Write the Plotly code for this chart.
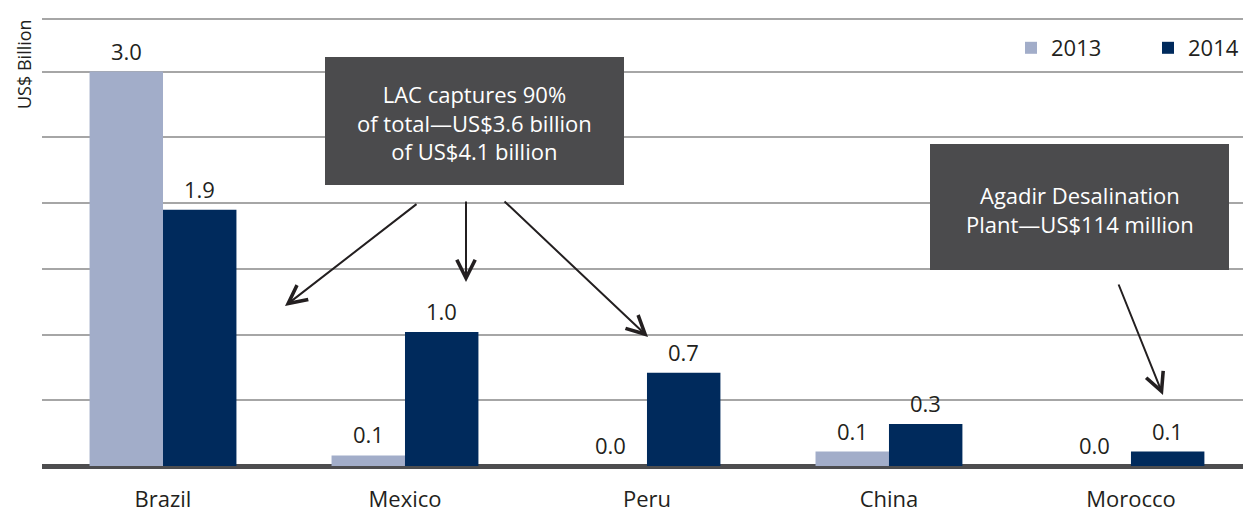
import plotly.graph_objects as go

countries = ["Brazil", "Mexico", "Peru", "China", "Morocco"]
vals_2013 = [3.0, 0.08, 0.0, 0.11, 0.0]
vals_2014 = [1.95, 1.02, 0.71, 0.32, 0.11]
labels_2013 = ["3.0", "0.1", "0.0", "0.1", "0.0"]
labels_2014 = ["1.9", "1.0", "0.7", "0.3", "0.1"]

C13 = "#a2adc9"
C14 = "#002a5c"
TXT = "#231f20"
BOX = "#4b4b4d"
GRID = "#a6a6a6"
FONT = "Open Sans"

W, H = 1243, 515
ML, MR, MT, MB = 42, 0, 19, 49
PW, PH = W - ML - MR, H - MT - MB

def px(xp):
    return (xp - ML) / PW

def py(yp):
    return (H - MB - yp) / PH

fig = go.Figure()
fig.add_trace(go.Bar(name="2013", x=countries, y=vals_2013, marker_color=C13, marker_line_width=0))
fig.add_trace(go.Bar(name="2014", x=countries, y=vals_2014, marker_color=C14, marker_line_width=0))

annotations = []
shift = 36.75
for c, v, t in zip(countries, vals_2013, labels_2013):
    annotations.append(dict(x=c, y=v, text=t, xshift=-shift, yshift=21, showarrow=False,
                            xanchor="center", yanchor="middle",
                            font=dict(size=22, color=TXT, family=FONT)))
for c, v, t in zip(countries, vals_2014, labels_2014):
    annotations.append(dict(x=c, y=v, text=t, xshift=shift, yshift=21, showarrow=False,
                            xanchor="center", yanchor="middle",
                            font=dict(size=22, color=TXT, family=FONT)))

# y axis title
annotations.append(dict(xref="paper", yref="paper", x=0, y=1, xshift=-18, yshift=2,
                        xanchor="center", yanchor="top", textangle=-90, showarrow=False,
                        text="US$ Billion", font=dict(size=18, color=TXT, family=FONT)))

# callout boxes
shapes = [
    dict(type="rect", xref="paper", yref="paper", x0=px(325), x1=px(624), y0=py(185), y1=py(57),
         fillcolor=BOX, line_width=0, layer="above"),
    dict(type="rect", xref="paper", yref="paper", x0=px(930), x1=px(1229), y0=py(270), y1=py(144),
         fillcolor=BOX, line_width=0, layer="above"),
    dict(type="line", xref="x domain", yref="y domain", x0=0, x1=1, y0=1, y1=1,
         line=dict(color=GRID, width=2), layer="below"),
]
annotations.append(dict(xref="paper", yref="paper", x=px(474.5), y=py(122), showarrow=False,
                        xanchor="center", yanchor="middle",
                        text="LAC captures 90%<br>of total\u2014US$3.6 billion<br>of US$4.1 billion",
                        font=dict(size=22, color="white", family=FONT), align="center"))
annotations.append(dict(xref="paper", yref="paper", x=px(1079.5), y=py(209), showarrow=False,
                        xanchor="center", yanchor="middle",
                        text="Agadir Desalination<br>Plant\u2014US$114 million",
                        font=dict(size=22, color="white", family=FONT), align="center"))

# arrows (tip, tail) in pixel positions
arrows = [((285, 306), (418, 203)), ((466, 282), (466, 200)), ((648, 337), (503, 200)),
          ((1163, 395), (1118, 283))]
for (tx, ty), (sx, sy) in arrows:
    annotations.append(dict(xref="paper", yref="paper", x=px(tx), y=py(ty), ax=sx - tx, ay=sy - ty,
                            text="", showarrow=True, arrowhead=5, arrowsize=1.8, arrowwidth=2,
                            arrowcolor=TXT, standoff=0))

fig.update_layout(
    width=W, height=H,
    margin=dict(l=ML, r=MR, t=MT, b=MB, pad=0, autoexpand=False),
    plot_bgcolor="white", paper_bgcolor="white",
    barmode="group", bargap=0.393, bargroupgap=0,
    font=dict(family=FONT, size=22, color=TXT),
    showlegend=True,
    legend=dict(orientation="h", x=px(1011), y=py(48), xanchor="left", yanchor="middle",
                font=dict(size=22, color=TXT, family=FONT), bgcolor="rgba(0,0,0,0)",
                entrywidth=92, entrywidthmode="pixels", itemclick=False),
    xaxis=dict(type="category", range=[-0.5, 4.463], showgrid=False, showline=False,
               ticks="", ticklabelstandoff=18, automargin=False,
               tickfont=dict(size=22, color=TXT, family=FONT)),
    yaxis=dict(range=[0, 3.4], dtick=0.5, showticklabels=False, showgrid=True, automargin=False,
               gridcolor=GRID, gridwidth=2, zeroline=True, zerolinecolor="#4d4d4f",
               zerolinewidth=5, showline=False, ticks=""),
    annotations=annotations,
    shapes=shapes,
)

fig.write_html("out.html", config={"displayModeBar": False},
               post_script="document.body.style.margin='0';")
